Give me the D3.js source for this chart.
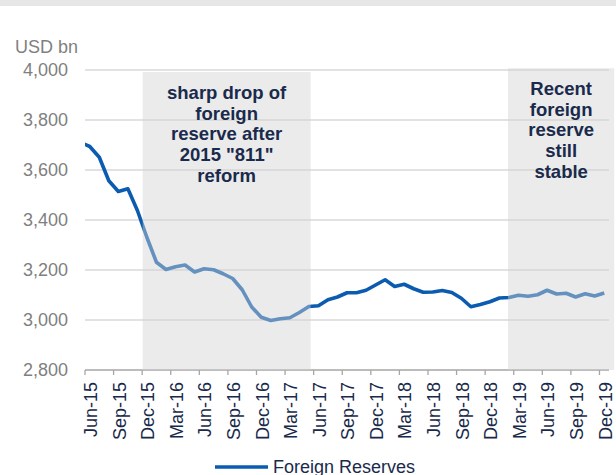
<!DOCTYPE html>
<html>
<head>
<meta charset="utf-8">
<script src="https://cdn.jsdelivr.net/npm/d3@7"></script>
<style>
  html, body { margin: 0; padding: 0; background: #ffffff; }
  svg { display: block; }
  text { font-family: "Liberation Sans", Arial, sans-serif; }
</style>
</head>
<body>
<svg id="chart" width="616" height="475"></svg>
<script>
// ---- data ----
const months = [
  "May-15","Jun-15","Jul-15","Aug-15","Sep-15","Oct-15","Nov-15","Dec-15",
  "Jan-16","Feb-16","Mar-16","Apr-16","May-16","Jun-16","Jul-16","Aug-16","Sep-16","Oct-16","Nov-16","Dec-16",
  "Jan-17","Feb-17","Mar-17","Apr-17","May-17","Jun-17","Jul-17","Aug-17","Sep-17","Oct-17","Nov-17","Dec-17",
  "Jan-18","Feb-18","Mar-18","Apr-18","May-18","Jun-18","Jul-18","Aug-18","Sep-18","Oct-18","Nov-18","Dec-18",
  "Jan-19","Feb-19","Mar-19","Apr-19","May-19","Jun-19","Jul-19","Aug-19","Sep-19","Oct-19","Nov-19","Dec-19"
];
const reserves = [
  3711, 3694, 3651, 3557, 3514, 3525, 3438, 3330,
  3231, 3202, 3213, 3220, 3192, 3205, 3201, 3185, 3166, 3121, 3052, 3011,
  2998, 3005, 3009, 3030, 3054, 3057, 3081, 3092, 3109, 3109, 3119, 3140,
  3161, 3134, 3143, 3125, 3111, 3112, 3118, 3110, 3087, 3053, 3062, 3073,
  3088, 3090, 3099, 3095, 3101, 3119, 3104, 3107, 3092, 3105, 3096, 3108
];
const axisStart = "Jun-15";
const tickLabels = ["Jun-15","Sep-15","Dec-15","Mar-16","Jun-16","Sep-16","Dec-16","Mar-17",
  "Jun-17","Sep-17","Dec-17","Mar-18","Jun-18","Sep-18","Dec-18","Mar-19","Jun-19","Sep-19","Dec-19"];
const yTicks = [2800, 3000, 3200, 3400, 3600, 3800, 4000];
const seriesName = "Foreign Reserves";
const unitLabel = "USD bn";
const annotations = [
  { from: "Dec-15", to: "May-17", lines: ["sharp drop of", "foreign", "reserve after", "2015 \"811\"", "reform"] },
  { from: "Feb-19", to: "Dec-19", lines: ["Recent", "foreign", "reserve", "still", "stable"] }
];

// ---- layout ----
const svg = d3.select("#chart");
const W = 616, H = 475;
const plot = { left: 85, right: 609, top: 70, bottom: 370 };

const startIdx = months.indexOf(axisStart);
const idx = m => months.indexOf(m) - startIdx;
const nCats = months.length - startIdx;

// index scale: category centres
const x = d3.scaleLinear().domain([-0.5, nCats - 0.5]).range([plot.left, plot.right]);
const y = d3.scaleLinear().domain([2800, 4000]).range([plot.bottom, plot.top]);

// top bar
svg.append("rect").attr("x", 0).attr("y", 0).attr("width", W).attr("height", 6).attr("fill", "#e6e6e6");

// gridlines
svg.append("g").selectAll("line").data(yTicks.filter(v => v > 2800)).join("line")
  .attr("x1", plot.left).attr("x2", plot.right)
  .attr("y1", d => y(d)).attr("y2", d => y(d))
  .attr("stroke", "#d9d9d9").attr("stroke-width", 1.3);

// y labels
svg.append("g").selectAll("text").data(yTicks).join("text")
  .attr("x", 68).attr("y", d => y(d)).attr("dy", "0.35em")
  .attr("text-anchor", "end").attr("font-size", 18).attr("fill", "#7f7f7f")
  .text(d => d3.format(",")(d));

svg.append("text").attr("x", 15).attr("y", 53).attr("font-size", 18).attr("fill", "#7f7f7f").text(unitLabel);

// clip
svg.append("clipPath").attr("id", "plotclip").append("rect")
  .attr("x", plot.left).attr("y", 0).attr("width", plot.right - plot.left).attr("height", H);

// line
const data = months.map((m, i) => ({ i: i - startIdx, v: reserves[i] }));
svg.append("path").datum(data)
  .attr("clip-path", "url(#plotclip)")
  .attr("fill", "none").attr("stroke", "#0b5cb0").attr("stroke-width", 3.6)
  .attr("stroke-linejoin", "round")
  .attr("d", d3.line().x(d => x(d.i)).y(d => y(d.v)));

// x axis line
svg.append("line").attr("x1", plot.left).attr("x2", plot.right)
  .attr("y1", plot.bottom).attr("y2", plot.bottom)
  .attr("stroke", "#a6a6a6").attr("stroke-width", 1.3);

// tick marks at category boundaries before each labelled month
svg.append("g").selectAll("line").data(tickLabels).join("line")
  .attr("x1", d => x(idx(d) - 0.5)).attr("x2", d => x(idx(d) - 0.5))
  .attr("y1", plot.bottom).attr("y2", plot.bottom + 5)
  .attr("stroke", "#a6a6a6").attr("stroke-width", 1.3);

// x labels
svg.append("g").selectAll("text").data(tickLabels).join("text")
  .attr("transform", d => `translate(${x(idx(d)) + 1},${plot.bottom + 12}) rotate(-90)`)
  .attr("text-anchor", "end").attr("dy", "0.35em")
  .attr("font-size", 18).attr("fill", "#18294a")
  .text(d => d);

// annotation shading (over the line)
const shadeBounds = [
  { a: -0.45, b: 0.18, top: 3992 },
  { a: -0.1, b: 1.05, top: 4007 }
];
annotations.forEach((an, k) => {
  const x0 = x(idx(an.from) + shadeBounds[k].a);
  const x1 = x(idx(an.to) + shadeBounds[k].b);
  svg.append("rect")
    .attr("x", x0).attr("y", y(shadeBounds[k].top))
    .attr("width", x1 - x0).attr("height", plot.bottom - y(shadeBounds[k].top))
    .attr("fill", "rgb(210,210,210)").attr("fill-opacity", 0.45);
  const cx = (x0 + x1) / 2;
  const firstBase = k === 0 ? 99 : 95;
  svg.append("g").selectAll("text").data(an.lines).join("text")
    .attr("x", cx).attr("y", (d, j) => firstBase + j * 20.7)
    .attr("text-anchor", "middle").attr("font-size", 18.5).attr("font-weight", "bold")
    .attr("fill", "#1a2a4c")
    .text(d => d);
});

// legend
svg.append("line").attr("x1", 215).attr("x2", 268).attr("y1", 467).attr("y2", 467)
  .attr("stroke", "#0b5cb0").attr("stroke-width", 3.6);
svg.append("text").attr("x", 273).attr("y", 473).attr("font-size", 18).attr("fill", "#1a2a4c").text(seriesName);
</script>
</body>
</html>
